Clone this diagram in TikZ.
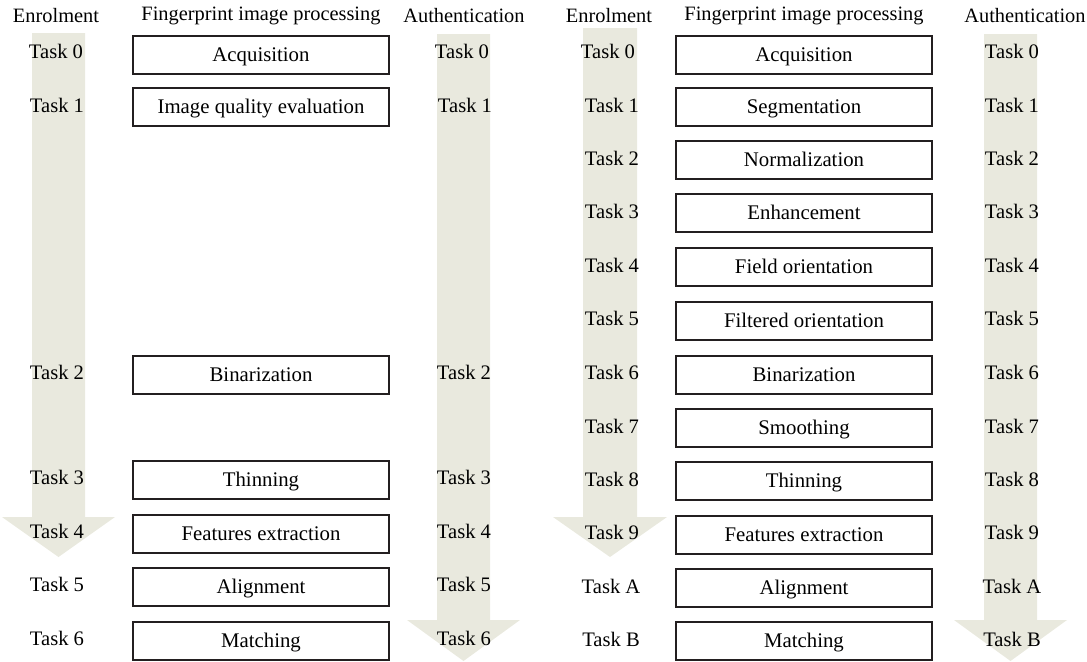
\documentclass[tikz,border=0pt]{standalone}
\usepackage{fontspec}
\setmainfont{Liberation Serif}
\usepackage{xcolor}
\usetikzlibrary{positioning}
\definecolor{flowbeige}{RGB}{233,233,222}
\definecolor{boxline}{RGB}{35,31,32}

\begin{document}
\begin{tikzpicture}[
    x=0.5pt, y=-0.5pt,
    stage/.style={rectangle, draw=boxline, line width=0.65pt, minimum width=128pt,
                  minimum height=19pt, inner sep=0pt, text height=6.5pt, text depth=0.5pt,
                  font=\fontsize{10.4}{12}\selectfont},
    task/.style={inner sep=0pt, font=\fontsize{10.3}{12}\selectfont},
    head/.style={inner sep=0pt, font=\fontsize{10.2}{12}\selectfont},
    flow/.style={fill=flowbeige, draw=none},
]
\useasboundingbox (0,0) rectangle (1087,661);

% Arrows (background)
\fill[flow] (32,33) -- (85,33) -- (85,517) -- (115,517) -- (58.5,557) -- (2,517) -- (32,517) -- cycle;
\fill[flow] (437,34) -- (490,34) -- (490,620) -- (520,620) -- (463.5,661) -- (407,620) -- (437,620) -- cycle;
\fill[flow] (583,28) -- (637,28) -- (637,517) -- (667,517) -- (610,557) -- (553,517) -- (583,517) -- cycle;
\fill[flow] (984,34) -- (1037,34) -- (1037,620) -- (1067,620) -- (1010.5,661) -- (954,620) -- (984,620) -- cycle;

% Left panel headers
\node[head] (lenrol) at (56,16) {Enrolment};
\node[head] (lproc) at (261,16) {Fingerprint image processing};
\node[head] (lauth) at (464,16) {Authentication};

% Left panel stages
\node[stage] (l0) at (261,55) {Acquisition};
\node[stage] (l1) at (261,107) {Image quality evaluation};
\node[stage] (l2) at (261,375) {Binarization};
\node[stage] (l3) at (261,480) {Thinning};
\node[stage] (l4) at (261,534) {Features extraction};
\node[stage] (l5) at (261,587) {Alignment};
\node[stage] (l6) at (261,641) {Matching};

% Left panel tasks
\node[task] (le0) at (56,51) {Task 0};
\node[task] (le1) at (57,105) {Task 1};
\node[task] (le2) at (57,372) {Task 2};
\node[task] (le3) at (57,477) {Task 3};
\node[task] (le4) at (57,531) {Task 4};
\node[task] (le5) at (57,584) {Task 5};
\node[task] (le6) at (57,638) {Task 6};
\node[task] (la0) at (462,51) {Task 0};
\node[task] (la1) at (465,105) {Task 1};
\node[task] (la2) at (464,372) {Task 2};
\node[task] (la3) at (464,477) {Task 3};
\node[task] (la4) at (464,531) {Task 4};
\node[task] (la5) at (464,584) {Task 5};
\node[task] (la6) at (464,638) {Task 6};

% Right panel headers
\node[head] (renrol) at (609,16) {Enrolment};
\node[head] (rproc) at (804,16) {Fingerprint image processing};
\node[head, anchor=east] (rauth) at (1086,16) {Authentication};

% Right panel stages
\node[stage] (r0) at (804,55) {Acquisition};
\node[stage] (r1) at (804,107) {Segmentation};
\node[stage] (r2) at (804,160) {Normalization};
\node[stage] (r3) at (804,213) {Enhancement};
\node[stage] (r4) at (804,267) {Field orientation};
\node[stage] (r5) at (804,321) {Filtered orientation};
\node[stage] (r6) at (804,375) {Binarization};
\node[stage] (r7) at (804,428) {Smoothing};
\node[stage] (r8) at (804,481) {Thinning};
\node[stage] (r9) at (804,535) {Features extraction};
\node[stage] (r10) at (804,588) {Alignment};
\node[stage] (r11) at (804,641) {Matching};

% Right panel tasks
\node[task] (re0) at (608,51) {Task 0};
\node[task] (re1) at (612,105) {Task 1};
\node[task] (re2) at (612,158) {Task 2};
\node[task] (re3) at (612,211) {Task 3};
\node[task] (re4) at (612,265) {Task 4};
\node[task] (re5) at (612,318) {Task 5};
\node[task] (re6) at (612,372) {Task 6};
\node[task] (re7) at (612,426) {Task 7};
\node[task] (re8) at (612,479) {Task 8};
\node[task] (re9) at (612,532) {Task 9};
\node[task] (re10) at (611,586) {Task A};
\node[task] (re11) at (611,639) {Task B};
\node[task] (ra0) at (1012,51) {Task 0};
\node[task] (ra1) at (1012,105) {Task 1};
\node[task] (ra2) at (1012,158) {Task 2};
\node[task] (ra3) at (1012,211) {Task 3};
\node[task] (ra4) at (1012,265) {Task 4};
\node[task] (ra5) at (1012,318) {Task 5};
\node[task] (ra6) at (1012,372) {Task 6};
\node[task] (ra7) at (1012,426) {Task 7};
\node[task] (ra8) at (1012,479) {Task 8};
\node[task] (ra9) at (1012,532) {Task 9};
\node[task] (ra10) at (1012,586) {Task A};
\node[task] (ra11) at (1012,639) {Task B};

\end{tikzpicture}
\end{document}
